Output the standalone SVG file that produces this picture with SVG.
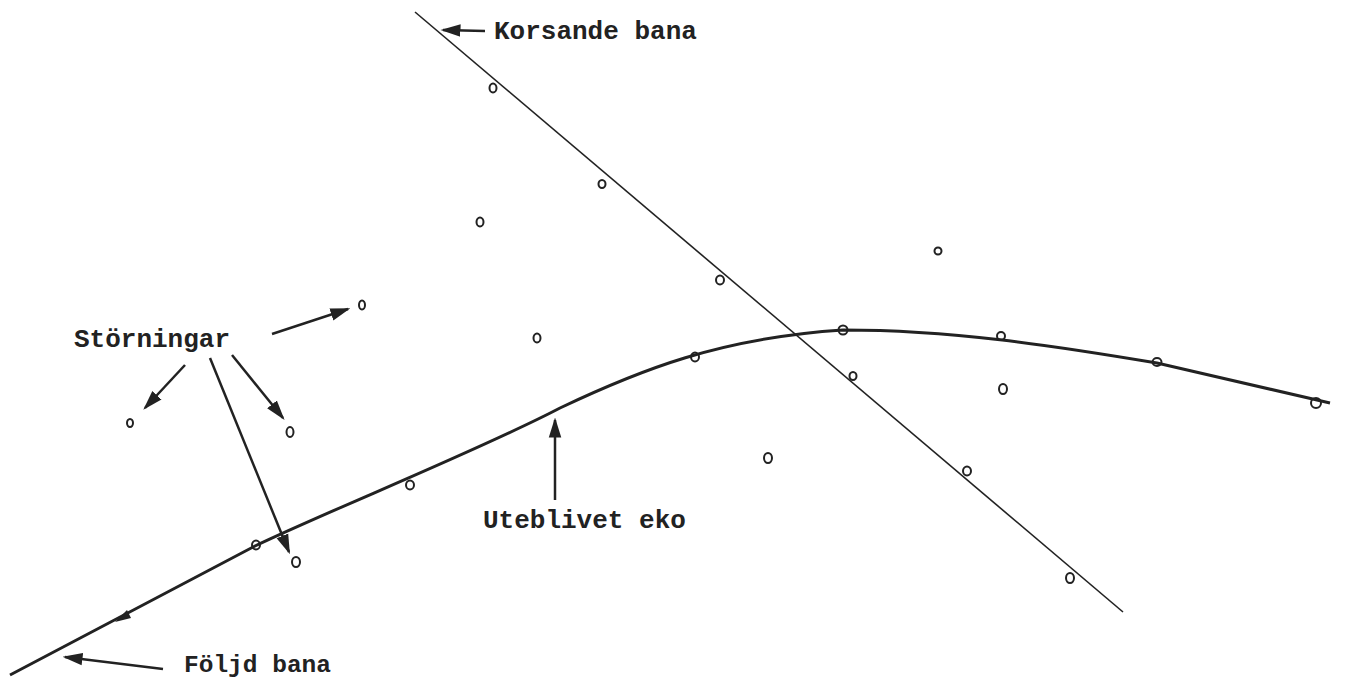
<svg xmlns="http://www.w3.org/2000/svg" width="1345" height="683" viewBox="0 0 1345 683">
<defs>
<style>
.lbl{font-family:"Liberation Mono","DejaVu Sans Mono",monospace;font-size:26px;fill:#222;font-weight:bold}
.echo{fill:none;stroke:#222;stroke-width:2}
.arr{stroke:#222;stroke-width:2.5;fill:none;marker-end:url(#ah)}
</style>
<marker id="ah" markerWidth="8" markerHeight="6" refX="7" refY="3" orient="auto" markerUnits="strokeWidth">
<path d="M0,0.5 L8,3 L0,5.5 Z" fill="#222"/>
</marker>
</defs>
<rect width="1345" height="683" fill="#fff"/>
<g id="connectors">
<path id="korsande-bana" d="M415,12 L1123,612" stroke="#222" stroke-width="1.6" fill="none"/>
<path id="foljd-bana" d="M10,675 L255,546 C330,510 480,450 560,408 C640,370 720,338 843,330 C950,330 1050,345 1157,363 L1330,403" stroke="#222" stroke-width="3" fill="none"/>
<path d="M115,622 L127,610 L131,618 Z" fill="#222"/>
<path class="arr" d="M485,31 L443,30"/>
<path class="arr" d="M272,334 L348,309"/>
<path class="arr" d="M185,365 L145,408"/>
<path class="arr" d="M210,358 L289,552"/>
<path class="arr" d="M232,355 L283,418"/>
<path class="arr" d="M555,500 L555,420"/>
<path class="arr" d="M163,669 L65,657"/>
</g>
<g id="echoes">
<ellipse class="echo" cx="493" cy="88" rx="3.5" ry="4.5"/>
<ellipse class="echo" cx="602" cy="184" rx="3.5" ry="4"/>
<ellipse class="echo" cx="480" cy="222" rx="3.5" ry="4.5"/>
<ellipse class="echo" cx="720" cy="280" rx="4" ry="4.5"/>
<ellipse class="echo" cx="938" cy="251" rx="3.5" ry="3.5"/>
<ellipse class="echo" cx="362" cy="305" rx="3" ry="4.5"/>
<ellipse class="echo" cx="537" cy="338" rx="3.5" ry="4.5"/>
<ellipse class="echo" cx="695" cy="357" rx="4" ry="4.5"/>
<ellipse class="echo" cx="843" cy="330" rx="4.5" ry="4.5"/>
<ellipse class="echo" cx="1001" cy="336" rx="4" ry="4"/>
<ellipse class="echo" cx="853" cy="376" rx="3.5" ry="4"/>
<ellipse class="echo" cx="1003" cy="389" rx="4" ry="5"/>
<ellipse class="echo" cx="1157" cy="362" rx="4.5" ry="4"/>
<ellipse class="echo" cx="1316" cy="403" rx="5" ry="5"/>
<ellipse class="echo" cx="130" cy="423" rx="3" ry="4"/>
<ellipse class="echo" cx="290" cy="432" rx="3.5" ry="5"/>
<ellipse class="echo" cx="410" cy="485" rx="4" ry="4.5"/>
<ellipse class="echo" cx="768" cy="458" rx="4" ry="5"/>
<ellipse class="echo" cx="967" cy="471" rx="4" ry="4.5"/>
<ellipse class="echo" cx="256" cy="545" rx="4" ry="4.5"/>
<ellipse class="echo" cx="296" cy="562" rx="4" ry="5"/>
<ellipse class="echo" cx="1070" cy="578" rx="4" ry="5"/>
</g>
<g id="label-korsande"><text class="lbl" x="494" y="39">Korsande bana</text></g>
<g id="label-storningar"><text class="lbl" x="74" y="347">Störningar</text></g>
<g id="label-uteblivet"><text class="lbl" x="483" y="528">Uteblivet eko</text></g>
<g id="label-foljd"><text class="lbl" x="184" y="672" style="font-size:24.5px">Följd bana</text></g>
</svg>
